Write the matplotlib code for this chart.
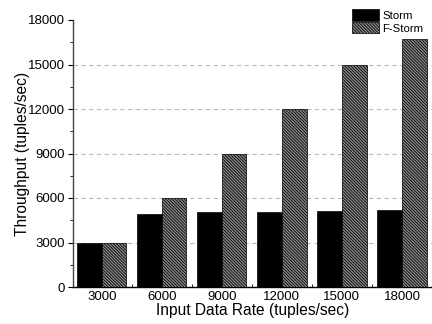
import matplotlib

matplotlib.use("Agg")
import matplotlib.pyplot as plt
import numpy as np
from matplotlib.ticker import MultipleLocator

plt.rcParams.update({
    "font.family": ["Liberation Sans", "DejaVu Sans"],
    "hatch.linewidth": 0.6,
})

rates = ["3000", "6000", "9000", "12000", "15000", "18000"]
storm = [3000, 4950, 5030, 5030, 5120, 5170]
f_storm = [3000, 6000, 9000, 12000, 15000, 16750]

fig = plt.figure(figsize=(4.32, 3.24), dpi=100)
ax = fig.add_axes([73 / 432, 37 / 324, 1 - 73 / 432, 267 / 324])

x = np.arange(len(rates))
width = 0.41
ax.bar(x - width / 2, storm, width, color="black", edgecolor="black",
       linewidth=0.5, label="Storm", zorder=3)
ax.bar(x + width / 2, f_storm, width, color="#8c8c8c", edgecolor="black",
       hatch="\\" * 11, linewidth=0.5, label="F-Storm", zorder=3)

ax.set_xlim(-0.48, 5.5)
ax.set_ylim(0, 18000)
ax.set_xticks(x)
ax.set_xticklabels(rates)
ax.set_yticks(np.arange(0, 18001, 3000))
ax.yaxis.set_minor_locator(MultipleLocator(1500))
ax.set_xticks(x[:-1] + 0.5, minor=True)
ax.tick_params(axis="both", labelsize=9.5)
ax.tick_params(axis="y", which="major", direction="out", length=3.5, width=0.8, pad=2)
ax.tick_params(axis="y", which="minor", direction="out", length=2, width=0.6)
ax.tick_params(axis="x", which="major", length=0, pad=3)
ax.tick_params(axis="x", which="minor", direction="in", length=2, width=0.6)

for spine in ["top", "right"]:
    ax.spines[spine].set_visible(False)
ax.spines["left"].set_linewidth(1.0)
ax.spines["left"].set_color("#444444")
ax.spines["bottom"].set_linewidth(1.0)

ax.yaxis.grid(True, linestyle=(0, (4, 3)), color="#bbbbbb", linewidth=0.8, zorder=0)
ax.get_ygridlines()[-1].set_visible(False)
ax.set_axisbelow(True)

ax.set_xlabel("Input Data Rate (tuples/sec)", fontsize=11.2, labelpad=0)
ax.set_ylabel("Throughput (tuples/sec)", fontsize=11.2, labelpad=-1)

ax.legend(loc="upper right", bbox_to_anchor=(0.99, 0.985), bbox_transform=fig.transFigure,
          frameon=False, fontsize=8.2, handlelength=2.35, handleheight=1.15,
          handletextpad=0.3, labelspacing=0.1, borderpad=0.2, borderaxespad=0.2)

fig.savefig("out.png", dpi=100)
plt.close(fig)
